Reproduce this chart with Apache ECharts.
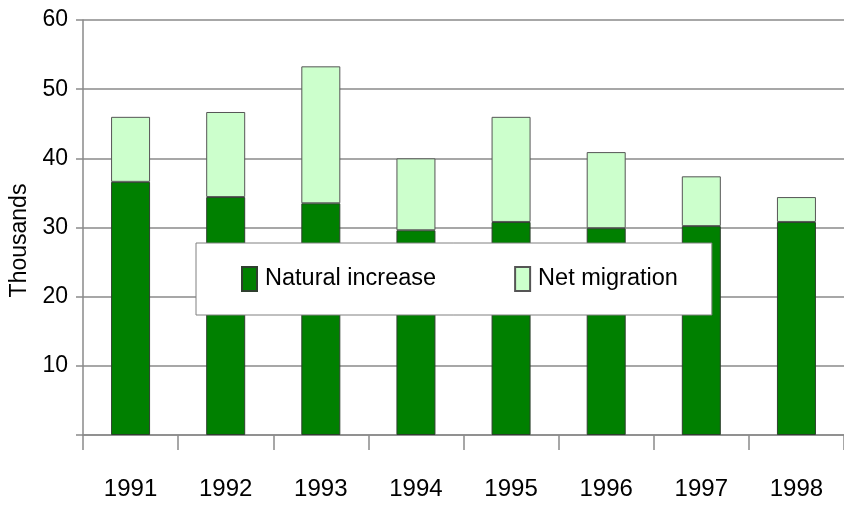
<!DOCTYPE html>
<html>
<head>
<meta charset="utf-8">
<script src="https://cdn.jsdelivr.net/npm/echarts@6/dist/echarts.min.js"></script>
<style>
  html, body { margin: 0; padding: 0; background: #fff; }
  #chart { width: 844px; height: 506px; }
</style>
</head>
<body>
<div id="chart"></div>
<script>
// values in thousands
const years = ['1991', '1992', '1993', '1994', '1995', '1996', '1997', '1998'];
const naturalIncrease = [36.6, 34.4, 33.5, 29.6, 30.8, 29.9, 30.2, 30.8];
const netMigration = [9.4, 12.3, 19.8, 10.4, 15.2, 11.0, 7.2, 3.6];

const font = 'Liberation Sans, Arial, sans-serif';
const gridGray = '#8a8a8a';

const chart = echarts.init(document.getElementById('chart'));
chart.setOption({
    backgroundColor: '#ffffff',
    animation: false,
    textStyle: { fontFamily: font },
    grid: { left: 83, top: 20, width: 766, bottom: 71 },
    legend: {
        left: 196,
        top: 243,
        orient: 'horizontal',
        data: ['Natural increase', 'Net migration'],
        icon: 'rect',
        backgroundColor: '#ffffff',
        borderColor: '#808080',
        borderWidth: 1,
        padding: [23, 34, 23, 45],
        itemWidth: 15,
        itemHeight: 24,
        itemGap: 78,
        textStyle: { fontSize: 23.5, color: '#000', fontFamily: font, lineHeight: 24, padding: [0, 0, 0, 3] }
    },
    xAxis: {
        type: 'category',
        data: years,
        axisLine: { lineStyle: { color: gridGray, width: 1.5 } },
        axisTick: { show: true, length: 15, lineStyle: { color: gridGray, width: 1.5 } },
        axisLabel: { fontSize: 24, color: '#000', margin: 42, fontFamily: font }
    },
    yAxis: {
        type: 'value',
        min: 0,
        max: 60,
        interval: 10,
        name: 'Thousands',
        nameLocation: 'middle',
        nameGap: 49,
        nameTextStyle: { fontSize: 23, color: '#000', fontFamily: font, padding: [0, 26, 0, 0] },
        axisLine: { show: true, lineStyle: { color: gridGray, width: 1.5 } },
        axisTick: { show: true, length: 7, lineStyle: { color: gridGray, width: 1.5 } },
        axisLabel: {
            fontSize: 23, color: '#000', margin: 15, fontFamily: font,
            formatter: v => (v === 0 ? '' : v)
        },
        splitLine: { lineStyle: { color: gridGray, width: 1.5 } }
    },
    series: [
        {
            name: 'Natural increase',
            type: 'bar',
            stack: 'total',
            barWidth: 39,
            data: naturalIncrease,
            itemStyle: { color: '#008000', borderColor: '#2f3f2f', borderWidth: 1 }
        },
        {
            name: 'Net migration',
            type: 'bar',
            stack: 'total',
            barWidth: 39,
            data: netMigration,
            itemStyle: { color: '#ccffcc', borderColor: '#555', borderWidth: 1 }
        }
    ]
});
</script>
</body>
</html>
